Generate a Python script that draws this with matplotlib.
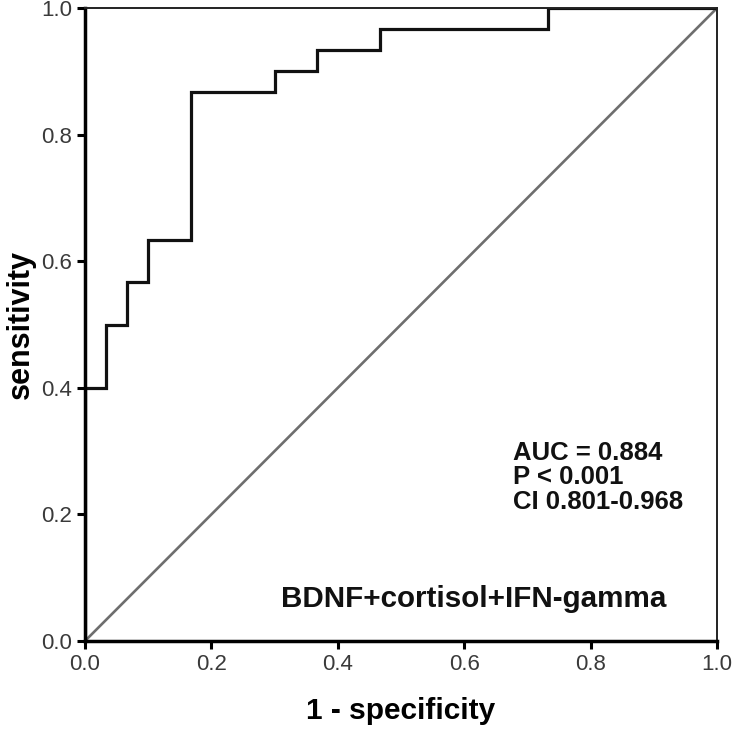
import matplotlib.pyplot as plt

# ROC curve step coordinates (1 - specificity, sensitivity)
fpr = [0.0, 0.0, 0.033, 0.033, 0.067, 0.067, 0.1, 0.1, 0.167, 0.167,
       0.3, 0.3, 0.367, 0.367, 0.467, 0.467, 0.733, 0.733, 1.0]
tpr = [0.0, 0.4, 0.4, 0.5, 0.5, 0.567, 0.567, 0.633, 0.633, 0.867,
       0.867, 0.9, 0.9, 0.933, 0.933, 0.967, 0.967, 1.0, 1.0]

ticks = [0.0, 0.2, 0.4, 0.6, 0.8, 1.0]
stats_lines = ["AUC = 0.884", "P < 0.001", "CI 0.801-0.968"]
model_name = "BDNF+cortisol+IFN-gamma"

plt.rcParams['font.family'] = ['Liberation Sans', 'DejaVu Sans']

fig = plt.figure(figsize=(7.35, 7.3), dpi=100)
ax = fig.add_axes([0.1156, 0.1219, 0.86, 0.8671])

# reference diagonal
ax.plot([0, 1], [0, 1], color='#6e6e6e', lw=1.9, solid_capstyle='butt')
# ROC curve
ax.plot(fpr, tpr, color='#111111', lw=2.3, solid_joinstyle='miter')

ax.set_xlim(0, 1)
ax.set_ylim(0, 1)
ax.set_xticks(ticks)
ax.set_yticks(ticks)
ax.set_xticklabels([f"{t:.1f}" for t in ticks])
ax.set_yticklabels([f"{t:.1f}" for t in ticks])
ax.tick_params(direction='out', length=6, width=2.2, labelsize=16,
               labelcolor='#3a3a3a', pad=3)

for side in ['left', 'bottom']:
    ax.spines[side].set_linewidth(2.5)
for side in ['top', 'right']:
    ax.spines[side].set_linewidth(1.4)
    ax.spines[side].set_color('#222222')

ax.set_xlabel("1 - specificity", fontsize=21.5, fontweight='bold', labelpad=16)
ax.set_ylabel("sensitivity", fontsize=22, fontweight='bold', labelpad=4)

for i, line in enumerate(stats_lines):
    ax.text(0.677, 0.297 - i * 0.0385, line, fontsize=18.5, fontweight='bold',
            ha='left', va='center', color='#111111')

ax.text(0.615, 0.066, model_name, fontsize=21.3, fontweight='bold',
        ha='center', va='center', color='#111111')

fig.savefig("out.png", dpi=100)
